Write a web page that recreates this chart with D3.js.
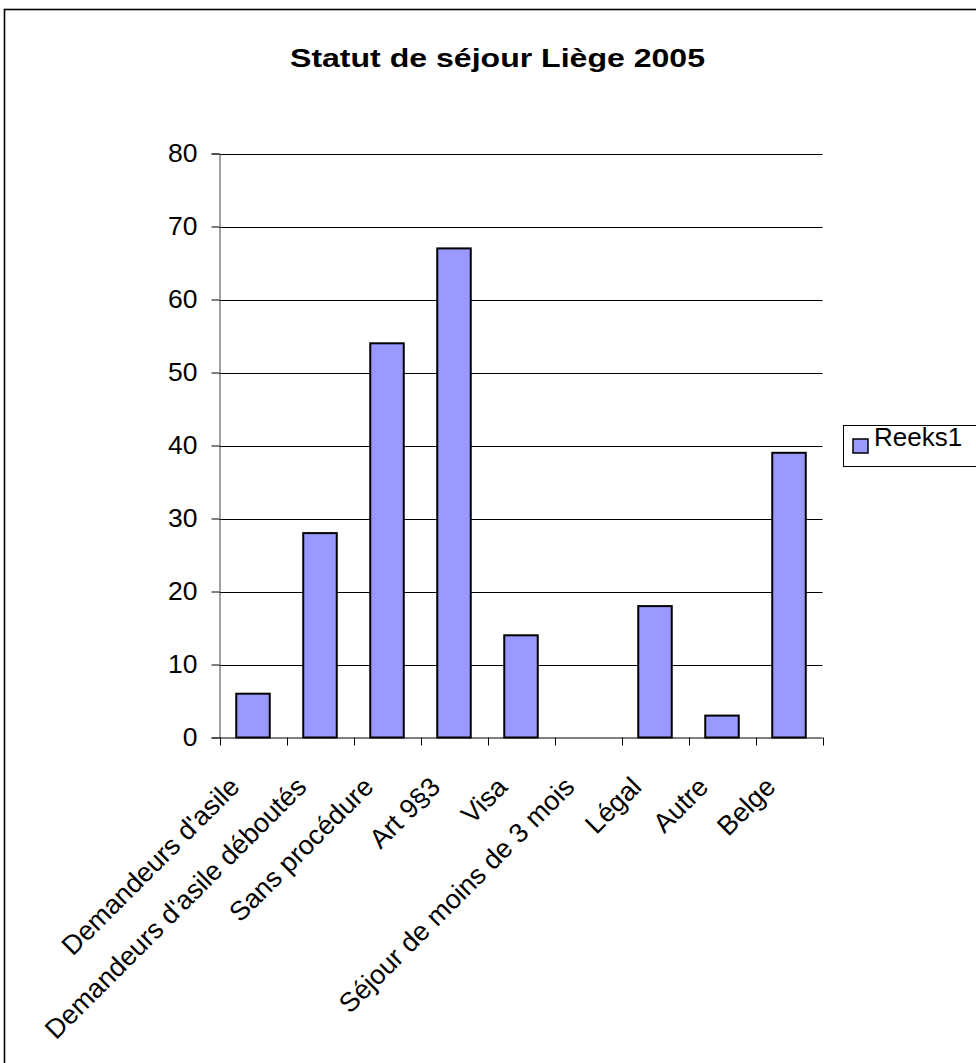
<!DOCTYPE html>
<html><head><meta charset="utf-8">
<script src="https://cdn.jsdelivr.net/npm/d3@7"></script>
<style>body{margin:0;background:#fff}svg{display:block}text{font-family:Arial,"Liberation Sans",sans-serif}</style>
</head><body>
<script>
const categories = ["Demandeurs d'asile","Demandeurs d'asile déboutés","Sans procédure","Art 9§3","Visa","Séjour de moins de 3 mois","Légal","Autre","Belge"];
const values = [6,28,54,67,14,0,18,3,39];
const yTicks = [0,10,20,30,40,50,60,70,80];
const seriesName = "Reeks1";
const title = "Statut de séjour Liège 2005";

const W=976,H=1063;
const svg=d3.select("body").append("svg").attr("width",W).attr("height",H);
svg.append("rect").attr("width",W).attr("height",H).attr("fill","#fff");
svg.append("rect").attr("x",4.5).attr("y",9.5).attr("width",W+10).attr("height",H+10).attr("fill","none").attr("stroke","#000").attr("stroke-width",1.6);

const L=219.5,R=822.5,T=153.5,B=737.5;
const x=d3.scaleBand().domain(categories).range([L,R]).paddingInner(0.5).paddingOuter(0.25);
const y=d3.scaleLinear().domain([0,80]).range([B,T]);

svg.append("text").attr("x",497.5).attr("y",67).attr("text-anchor","middle").attr("font-weight","bold")
 .attr("font-size",25).attr("textLength",415).attr("lengthAdjust","spacingAndGlyphs").text(title);

// gridlines
svg.append("g").selectAll("line").data(yTicks.filter(d=>d>0)).join("line")
 .attr("x1",L).attr("x2",R).attr("y1",d=>Math.round(y(d))+0.5).attr("y2",d=>Math.round(y(d))+0.5)
 .attr("stroke","#000").attr("stroke-width",1);

// y axis
const ya=svg.append("g").attr("transform",`translate(${L},0)`).call(d3.axisLeft(y).tickValues(yTicks).tickSize(8).tickPadding(14));
ya.select(".domain").attr("stroke","#444");
ya.selectAll(".tick line").attr("stroke","#000");
ya.selectAll("text").attr("font-size",26.5).attr("fill","#000").attr("font-family","Arial, 'Liberation Sans', sans-serif");

// x axis baseline and ticks
const step=x.step();
svg.append("line").attr("x1",L).attr("x2",R).attr("y1",B+0.5).attr("y2",B+0.5).attr("stroke","#000");
svg.append("g").selectAll("line").data(d3.range(categories.length+1)).join("line")
 .attr("x1",i=>Math.round(L+i*step)+0.5).attr("x2",i=>Math.round(L+i*step)+0.5)
 .attr("y1",B).attr("y2",B+8).attr("stroke","#000");

// bars
const barData=categories.map((c,i)=>({c,v:values[i]})).filter(d=>d.v>0);
svg.append("g").selectAll("rect").data(barData).join("rect")
 .attr("x",d=>x(d.c))
 .attr("y",d=>y(d.v)).attr("width",x.bandwidth()).attr("height",d=>B-y(d.v))
 .attr("fill","#9999FF").attr("stroke","#000").attr("stroke-width",2);

// x labels
svg.append("g").selectAll("text").data(categories).join("text")
 .attr("transform",d=>`translate(${x(d)+x.bandwidth()/2-12},${B+51}) rotate(-45)`)
 .attr("text-anchor","end").attr("font-size",27).text(d=>d);

// legend
svg.append("rect").attr("x",843.5).attr("y",425.5).attr("width",140).attr("height",41).attr("fill","#fff").attr("stroke","#000");
svg.append("rect").attr("x",853).attr("y",439).attr("width",15).attr("height",14).attr("fill","#9999FF").attr("stroke","#000").attr("stroke-width",1.5);
svg.append("text").attr("x",874).attr("y",446).attr("font-size",26).text(seriesName);
</script>
</body></html>
